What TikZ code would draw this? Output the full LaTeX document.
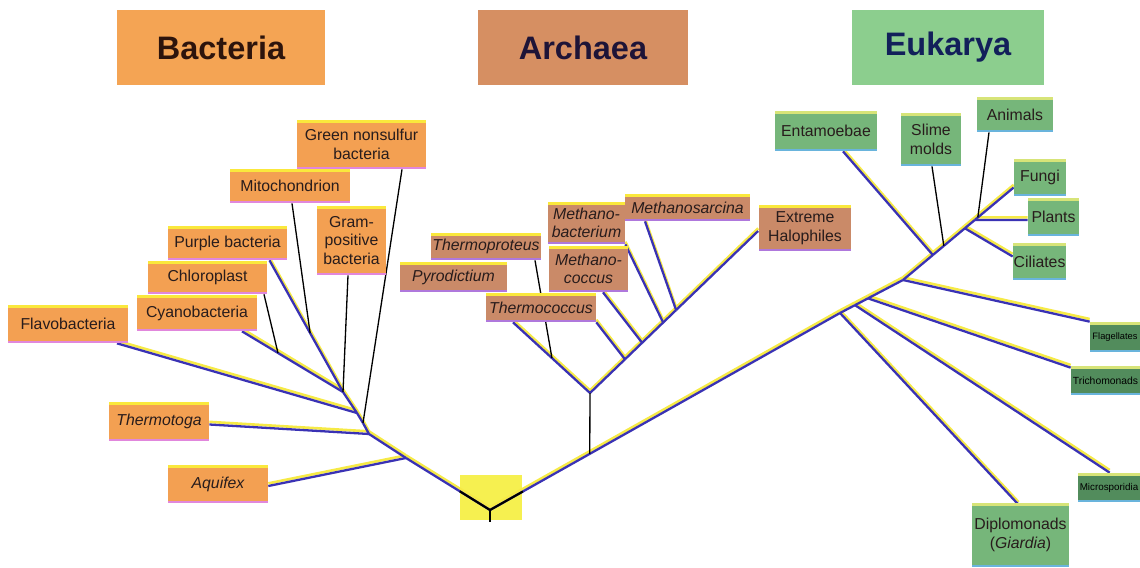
\documentclass[tikz,border=0pt]{standalone}
\usepackage{fontspec}
\setmainfont{Liberation Sans}
\usetikzlibrary{calc}
\definecolor{bachdr}{RGB}{244,164,84}
\definecolor{bacfill}{RGB}{243,160,82}
\definecolor{archdr}{RGB}{214,143,98}
\definecolor{arcfill}{RGB}{202,138,104}
\definecolor{eukhdr}{RGB}{140,206,142}
\definecolor{eukfill}{RGB}{118,182,122}
\definecolor{eukdark}{RGB}{82,140,92}
\definecolor{bactxt}{RGB}{45,20,12}
\definecolor{arctxt}{RGB}{30,20,55}
\definecolor{euktxt}{RGB}{18,32,90}
\definecolor{lbltext}{RGB}{40,28,28}
\definecolor{brblue}{RGB}{58,50,180}
\definecolor{shyellow}{RGB}{246,234,70}
\definecolor{rootyellow}{RGB}{246,240,80}
\definecolor{topyel}{RGB}{250,232,60}
\definecolor{botpink}{RGB}{225,135,220}
\definecolor{botpurple}{RGB}{175,120,220}
\definecolor{topgreen}{RGB}{215,228,120}
\definecolor{botblue}{RGB}{105,180,220}
\pgfdeclarelayer{bg}
\pgfsetlayers{bg,main}
\begin{document}
\begin{tikzpicture}[x=0.02cm,y=-0.02cm,
  edges/.style 2 args={path picture={
    \fill[#1] (path picture bounding box.north west) rectangle ([yshift=-1.7pt]path picture bounding box.north east);
    \fill[#2] (path picture bounding box.south west) rectangle ([yshift=1.4pt]path picture bounding box.south east);}},
  lbl/.style={inner sep=0pt, align=center, font=\fontsize{9}{10.5}\selectfont, text=lbltext},
  bac/.style={lbl, fill=bacfill, edges={topyel}{botpink}},
  arc/.style={lbl, fill=arcfill, edges={topyel}{botpurple}, font=\fontsize{9}{10.5}\selectfont\itshape},
  euk/.style={lbl, fill=eukfill, edges={topgreen}{botblue}},
  eukd/.style={inner sep=0pt, fill=eukdark, edges={topgreen}{botblue}, align=center, text=black},
  hdr/.style={inner sep=0pt, font=\fontsize{18.5}{20}\selectfont\bfseries, minimum height=1.52cm},
  sh/.style={draw=shyellow, line width=1.5pt, transform canvas={yshift=1.5pt}},
  br/.style={draw=brblue, line width=1.3pt},
  bk/.style={draw=black, line width=0.75pt}
]
\useasboundingbox (0,0) rectangle (1140,568);

% headers
\node[hdr, fill=bachdr, text=bactxt, minimum width=4.18cm] (hbac) at (221,47.5) {Bacteria};
\node[hdr, fill=archdr, text=arctxt, minimum width=4.2cm] (harc) at (583,47.5) {Archaea};
\node[hdr, fill=eukhdr, text=euktxt, minimum width=3.86cm] (heuk) at (948,47.5) {Eukarya};

% bacteria labels
\node[bac, minimum width=2.58cm, minimum height=0.98cm] (green) at (361.5,144.5) {Green nonsulfur\\bacteria};
\node[bac, minimum width=2.4cm, minimum height=0.68cm] (mito) at (290,186) {Mitochondrion};
\node[bac, minimum width=1.38cm, minimum height=1.38cm] (gram) at (351.5,240.5) {Gram-\\positive\\bacteria};
\node[bac, minimum width=2.38cm, minimum height=0.68cm] (purple) at (227.5,243) {Purple bacteria};
\node[bac, minimum width=2.38cm, minimum height=0.66cm] (chloro) at (207.5,277.5) {Chloroplast};
\node[bac, minimum width=2.4cm, minimum height=0.72cm] (cyano) at (197,313) {Cyanobacteria};
\node[bac, minimum width=2.4cm, minimum height=0.76cm] (flavo) at (68,324) {Flavobacteria};
\node[bac, minimum width=2.0cm, minimum height=0.78cm, font=\fontsize{9}{10.5}\selectfont\itshape] (thermotoga) at (159,421.5) {Thermotoga};
\node[bac, minimum width=2.0cm, minimum height=0.76cm, font=\fontsize{9}{10.5}\selectfont\itshape] (aquifex) at (218,484) {Aquifex};

% archaea labels
\node[arc, minimum width=2.2cm, minimum height=0.54cm] (tprot) at (486,246.5) {Thermoproteus};
\node[arc, minimum width=2.14cm, minimum height=0.6cm] (pyro) at (453.5,277) {Pyrodictium};
\node[arc, minimum width=2.2cm, minimum height=0.58cm] (tcocc) at (541,307.5) {Thermococcus};
\node[arc, minimum width=1.54cm, minimum height=0.84cm] (mbact) at (586.5,223) {Methano-\\bacterium};
\node[arc, minimum width=2.5cm, minimum height=0.54cm] (msarc) at (687.5,207.5) {Methanosarcina};
\node[arc, minimum width=1.58cm, minimum height=0.92cm] (mcocc) at (588.5,269) {Methano-\\coccus};
\node[arc, minimum width=1.86cm, minimum height=0.92cm, font=\fontsize{9}{10.5}\selectfont] (halo) at (805,228) {Extreme\\Halophiles};

% eukarya labels
\node[euk, minimum width=2.04cm, minimum height=0.8cm] (entam) at (826,131) {Entamoebae};
\node[euk, minimum width=1.2cm, minimum height=1.06cm] (slime) at (931,139.5) {Slime\\molds};
\node[euk, minimum width=1.52cm, minimum height=0.7cm] (animals) at (1015,114.5) {Animals};
\node[euk, minimum width=1.04cm, minimum height=0.74cm] (fungi) at (1040,177.5) {Fungi};
\node[euk, minimum width=1.02cm, minimum height=0.76cm] (plants) at (1053.5,217) {Plants};
\node[euk, minimum width=1.06cm, minimum height=0.74cm] (cil) at (1039.5,261.5) {Ciliates};
\node[eukd, minimum width=1.0cm, minimum height=0.6cm, font=\fontsize{5.3}{6}\selectfont] (flag) at (1115,337) {Flagellates};
\node[eukd, minimum width=1.38cm, minimum height=0.58cm, font=\fontsize{5.9}{7}\selectfont] (trich) at (1105.5,380.5) {Trichomonads};
\node[eukd, minimum width=1.24cm, minimum height=0.58cm, font=\fontsize{5.6}{7}\selectfont] (micro) at (1109,487.5) {Microsporidia};
\node[euk, minimum width=1.94cm, minimum height=1.28cm] (diplo) at (1020.5,535) {Diplomonads\\(\textit{Giardia})};

% junctions
\coordinate (root) at (490,510);
\coordinate (stem) at (490,522);
\coordinate (b1) at (406,458);
\coordinate (b2) at (369,434);
\coordinate (b3) at (363,423);
\coordinate (b4) at (357,413);
\coordinate (b5) at (343,392);
\coordinate (eaqu) at ($(aquifex.east)+(0,2)$);
\coordinate (ethm) at ($(thermotoga.east)+(0,3)$);
\coordinate (eflv) at ($(flavo.south)+(49,0)$);
\coordinate (ecya) at ($(cyano.south)+(45,0)$);
\coordinate (epur) at ($(purple.south)+(42,0)$);
\coordinate (echl) at ($(chloro.south)+(56.5,0)$);
\coordinate (emit) at ($(mito.south)+(2,0)$);
\coordinate (egram) at ($(gram.south)+(-3.5,0)$);
\coordinate (egrn) at ($(green.south)+(40.5,0)$);
\coordinate (bm) at ($(b5)!0.447!(epur)$);
\coordinate (bc) at ($(b5)!0.644!(ecya)$);

\coordinate (e0) at (840,313);
\coordinate (e3) at (903,280);
\coordinate (a0) at ($(root)!0.285!(e0)$);
\coordinate (a1) at (590,393);
\coordinate (eTc) at ($(tcocc.south)+(-28,0)$);
\coordinate (eTc2) at (tcocc.south east);
\coordinate (ehal) at ($(halo.west)+(0,3)$);
\coordinate (aT) at ($(a1)!0.494!(eTc)$);
\coordinate (etpr) at ($(tprot.south)+(49,0)$);
\coordinate (ar1) at ($(a1)!0.208!(ehal)$);
\coordinate (ar2) at ($(a1)!0.31!(ehal)$);
\coordinate (ar3) at ($(a1)!0.435!(ehal)$);
\coordinate (ar4) at ($(a1)!0.512!(ehal)$);
\coordinate (emcc) at ($(mcocc.south)+(14.5,0)$);
\coordinate (emba) at (mbact.south east);
\coordinate (emsa) at ($(msarc.south)+(-42.5,0)$);

\coordinate (e8) at ($(fungi.west)+(0,10)$);
\coordinate (e1) at ($(e0)!0.238!(e3)$);
\coordinate (e2) at ($(e0)!0.444!(e3)$);
\coordinate (e4) at ($(e3)!0.27!(e8)$);
\coordinate (e5) at ($(e3)!0.369!(e8)$);
\coordinate (e6) at ($(e3)!0.559!(e8)$);
\coordinate (e7) at ($(e3)!0.649!(e8)$);
\coordinate (eA) at ($(e3)!0.676!(e8)$);
\coordinate (edip) at ($(diplo.north)+(-2,2)$);
\coordinate (emic) at ($(micro.north west)+(32,0)$);
\coordinate (etri) at ($(trich.north west)+(0,2)$);
\coordinate (efla) at (flag.north west);
\coordinate (eent) at ($(entam.south)+(17,0)$);
\coordinate (eslm) at ($(slime.south)+(1,0)$);
\coordinate (eani) at ($(animals.south)+(-26,0)$);
\coordinate (ecil) at ($(cil.west)+(0,-5)$);
\coordinate (epla) at ($(plants.west)+(0,3)$);

\begin{pgfonlayer}{bg}
\fill[rootyellow] (460,475) rectangle (522,520);
\foreach \p/\q in {root/b1,b1/b2,b2/b3,b3/b4,b4/b5,b1/eaqu,b2/ethm,b4/eflv,b5/ecya,b5/epur,
  root/a0,a0/e0,e0/e1,e1/e2,e2/e3,e3/e4,e4/e5,e5/e6,e6/e7,e7/eA,eA/e8,
  a1/eTc,a1/ar1,ar1/ar2,ar2/ar3,ar3/ar4,ar4/ehal,ar1/eTc2,ar2/emcc,ar3/emba,ar4/emsa,
  e0/edip,e1/emic,e2/etri,e3/efla,e4/eent,e6/ecil,e7/epla}
  \draw[sh] (\p) -- (\q);
\foreach \p/\q in {root/b1,b1/b2,b2/b3,b3/b4,b4/b5,b1/eaqu,b2/ethm,b4/eflv,b5/ecya,b5/epur,
  root/a0,a0/e0,e0/e1,e1/e2,e2/e3,e3/e4,e4/e5,e5/e6,e6/e7,e7/eA,eA/e8,
  a1/eTc,a1/ar1,ar1/ar2,ar2/ar3,ar3/ar4,ar4/ehal,ar1/eTc2,ar2/emcc,ar3/emba,ar4/emsa,
  e0/edip,e1/emic,e2/etri,e3/efla,e4/eent,e6/ecil,e7/epla}
  \draw[br] (\p) -- (\q);
\foreach \p/\q in {b3/egrn,b5/egram,bm/emit,bc/echl,a0/a1,aT/etpr,e5/eslm,eA/eani,root/stem}
  \draw[bk] (\p) -- (\q);
\draw[bk, line width=1.2pt] ($(root)!0.36!(b1)$) -- (root) -- ($(root)!0.33!(a0)$);
\end{pgfonlayer}
\end{tikzpicture}
\end{document}
